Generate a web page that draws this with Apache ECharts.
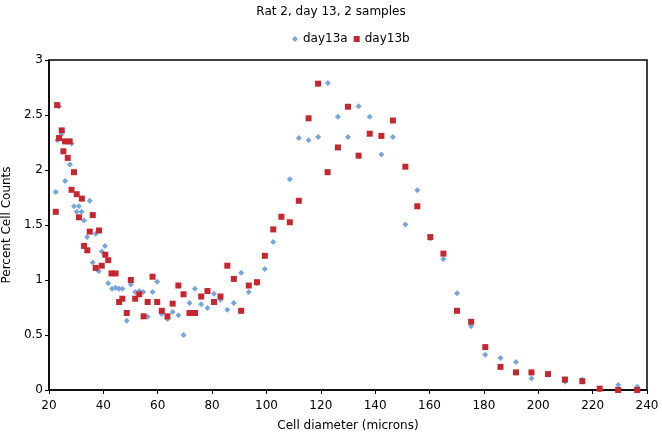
<!DOCTYPE html>
<html>
<head>
<meta charset="utf-8">
<script src="https://cdn.jsdelivr.net/npm/echarts@6/dist/echarts.min.js"></script>
<style>
html,body{margin:0;padding:0;background:#fff;}
#c{width:662px;height:437px;}
</style>
</head>
<body>
<div id="c"></div>
<script>
var titleText = "Rat 2, day 13, 2 samples";
var seriesNames = ["day13a", "day13b"];
var xTicks = [20, 40, 60, 80, 100, 120, 140, 160, 180, 200, 220, 240];
var yTicks = [0, 0.5, 1, 1.5, 2, 2.5, 3];

var day13aX = [22.5, 23.1, 23.7, 24.5, 25.9, 27.7, 28.3, 29.2, 30.2, 31.0, 32.0, 32.9, 34.0, 35.0, 36.1, 37.2, 38.3, 39.4, 40.6, 41.8, 43.2, 44.5, 45.7, 47.0, 48.6, 50.1, 51.7, 53.2, 54.7, 56.3, 58.1, 59.8, 61.5, 63.6, 65.5, 67.6, 69.5, 71.7, 73.7, 76.0, 78.3, 80.7, 83.1, 85.6, 88.0, 90.7, 93.5, 96.5, 99.4, 102.5, 105.5, 108.6, 111.9, 115.5, 119.0, 122.6, 126.3, 130.0, 133.9, 138.0, 142.3, 146.5, 151.1, 155.5, 160.3, 165.1, 170.1, 175.3, 180.5, 186.1, 191.8, 197.5, 203.6, 209.8, 216.2, 222.6, 229.4, 236.4];
var day13aY = [1.80, 2.27, 2.58, 2.32, 1.90, 2.05, 2.24, 1.67, 1.62, 1.67, 1.62, 1.54, 1.39, 1.72, 1.16, 1.42, 1.08, 1.26, 1.31, 0.97, 0.92, 0.93, 0.92, 0.92, 0.63, 0.96, 0.89, 0.90, 0.89, 0.665, 0.89, 0.985, 0.69, 0.645, 0.71, 0.68, 0.50, 0.79, 0.92, 0.78, 0.745, 0.875, 0.82, 0.73, 0.79, 1.065, 0.89, 0.97, 1.10, 1.345, 1.57, 1.915, 2.29, 2.27, 2.30, 2.79, 2.485, 2.30, 2.58, 2.485, 2.14, 2.30, 1.505, 1.815, 1.38, 1.19, 0.88, 0.58, 0.32, 0.29, 0.255, 0.105, 0.14, 0.075, 0.095, 0.005, 0.045, 0.03];

var day13bX = [22.5, 23.0, 23.7, 24.7, 25.3, 25.9, 26.9, 27.6, 28.3, 29.2, 30.2, 31.0, 32.1, 32.9, 34.1, 35.0, 36.1, 37.2, 38.4, 39.4, 40.7, 41.8, 43.0, 44.5, 45.8, 47.0, 48.6, 50.1, 51.7, 53.2, 54.8, 56.3, 58.1, 59.8, 61.5, 63.6, 65.5, 67.6, 69.5, 71.7, 73.7, 76.0, 78.3, 80.7, 83.1, 85.6, 88.0, 90.7, 93.5, 96.5, 99.4, 102.5, 105.5, 108.6, 111.9, 115.5, 119.0, 122.5, 126.3, 130.0, 133.9, 138.0, 142.3, 146.5, 151.1, 155.5, 160.3, 165.1, 170.1, 175.3, 180.5, 186.1, 191.8, 197.5, 203.6, 209.8, 216.2, 222.6, 229.4, 236.4];
var day13bY = [1.62, 2.59, 2.29, 2.36, 2.17, 2.26, 2.11, 2.26, 1.82, 1.98, 1.78, 1.57, 1.74, 1.31, 1.27, 1.44, 1.59, 1.11, 1.45, 1.13, 1.23, 1.18, 1.06, 1.06, 0.80, 0.83, 0.70, 1.00, 0.83, 0.87, 0.67, 0.80, 1.03, 0.80, 0.72, 0.67, 0.785, 0.95, 0.87, 0.70, 0.70, 0.85, 0.90, 0.80, 0.85, 1.13, 1.01, 0.72, 0.95, 0.98, 1.22, 1.46, 1.575, 1.525, 1.72, 2.47, 2.785, 1.98, 2.205, 2.575, 2.13, 2.33, 2.31, 2.45, 2.03, 1.67, 1.39, 1.24, 0.72, 0.62, 0.39, 0.21, 0.16, 0.16, 0.145, 0.095, 0.08, 0.012, 0.0, 0.0];

function pairs(xs, ys) {
  var out = [];
  for (var i = 0; i < xs.length; i++) out.push([xs[i], ys[i]]);
  return out;
}

var FONT = "DejaVu Sans";
var chart = echarts.init(document.getElementById('c'), null, {renderer: 'canvas'});
chart.setOption({
  animation: false,
  backgroundColor: '#ffffff',
  textStyle: {fontFamily: FONT},
  title: {
    text: titleText,
    left: 'center',
    top: 1,
    textStyle: {fontFamily: FONT, fontSize: 12, fontWeight: 'normal', color: '#000'}
  },
  legend: {
    top: 28,
    left: 287,
    itemWidth: 6,
    itemHeight: 6,
    itemGap: 6,
    textStyle: {fontFamily: FONT, fontSize: 12, color: '#000'},
    data: [
      {name: seriesNames[0], icon: 'diamond'},
      {name: seriesNames[1], icon: 'rect'}
    ]
  },
  grid: {
    left: 49, right: 15, top: 60, bottom: 47,
    outerBoundsMode: 'none',
    containLabel: false,
    show: true, borderColor: '#000', borderWidth: 1.5, backgroundColor: 'transparent'
  },
  xAxis: {
    type: 'value',
    min: xTicks[0], max: xTicks[xTicks.length - 1], interval: 20,
    name: 'Cell diameter (microns)',
    nameLocation: 'middle',
    nameGap: 30,
    nameTextStyle: {fontFamily: FONT, fontSize: 12, color: '#000'},
    axisLine: {show: true, onZero: false, lineStyle: {color: '#000', width: 1.5}},
    axisTick: {show: true, inside: false, length: 4, lineStyle: {color: '#000'}},
    axisLabel: {fontFamily: FONT, fontSize: 12, color: '#000', margin: 10},
    splitLine: {show: false}
  },
  yAxis: {
    type: 'value',
    min: yTicks[0], max: yTicks[yTicks.length - 1], interval: 0.5,
    name: 'Percent Cell Counts',
    nameLocation: 'middle',
    nameGap: 32,
    nameTextStyle: {fontFamily: FONT, fontSize: 12, color: '#000'},
    axisLine: {show: true, lineStyle: {color: '#000', width: 1.5}},
    axisTick: {show: true, inside: false, length: 4, lineStyle: {color: '#000'}},
    axisLabel: {fontFamily: FONT, fontSize: 12, color: '#000', margin: 6},
    splitLine: {show: false}
  },
  series: [
    {
      name: seriesNames[0],
      type: 'scatter',
      symbol: 'diamond',
      symbolSize: 6,
      itemStyle: {color: '#76a5de', opacity: 1},
      data: pairs(day13aX, day13aY)
    },
    {
      name: seriesNames[1],
      type: 'scatter',
      symbol: 'rect',
      symbolSize: 6,
      itemStyle: {color: '#c4282e', opacity: 1},
      data: pairs(day13bX, day13bY)
    }
  ]
});
</script>
</body>
</html>
